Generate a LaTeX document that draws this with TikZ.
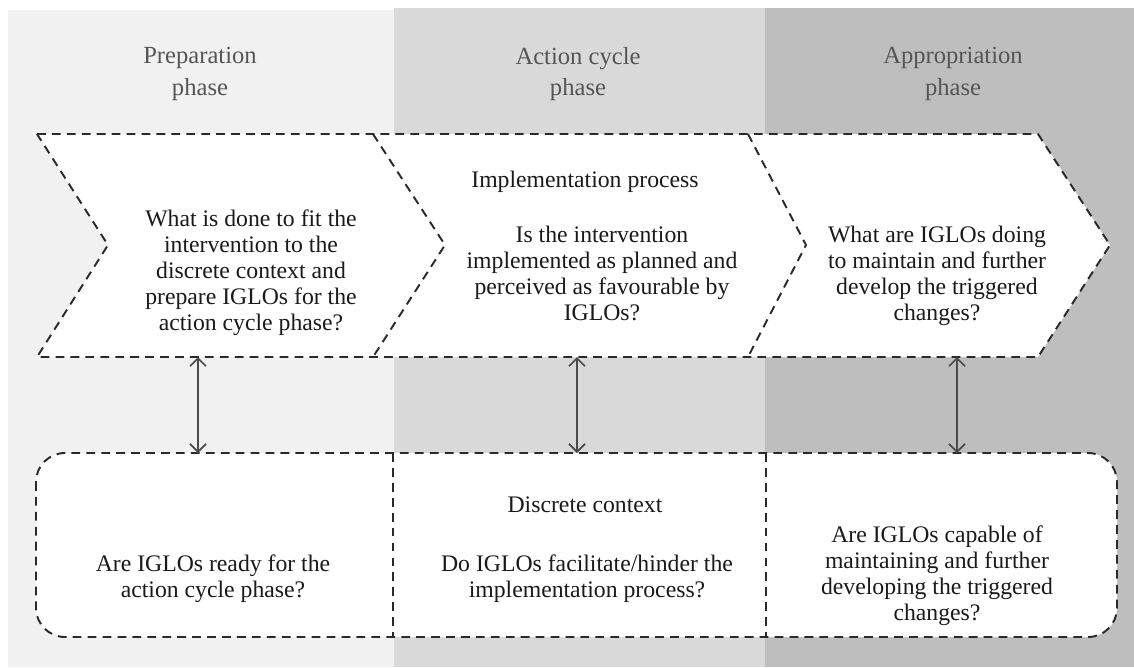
\documentclass[tikz,border=0pt]{standalone}
\usepackage{fontspec}
\setmainfont{Liberation Serif}
\usetikzlibrary{arrows.meta}
\definecolor{colprep}{HTML}{F1F1F1}
\definecolor{colact}{HTML}{D9D9D9}
\definecolor{colappr}{HTML}{BEBEBE}
\definecolor{coltext}{HTML}{1A1A1A}
\definecolor{colhead}{HTML}{555555}
\definecolor{colline}{HTML}{2A2A2A}
\begin{document}
\begin{tikzpicture}[x=0.02cm, y=-0.02cm,
		border/.style={draw=colline, line width=1.1pt, dash pattern=on 5pt off 3.5pt},
		head/.style={align=center, text=colhead, font=\fontsize{14}{18}\selectfont},
		quest/.style={align=center, text=coltext, font=\fontsize{13.5}{14.8}\selectfont},
		link/.style={draw=colline!85, line width=1pt, {Straight Barb[length=1.6mm,width=3.2mm]}-{Straight Barb[length=1.6mm,width=3.2mm]}}]
		\useasboundingbox ( 0, 0 ) rectangle ( 1134, 667 );

		% полосы фаз
		\fill [colprep] ( 8, 10 ) rectangle ( 394, 667 );
		\fill [colact] ( 394, 8 ) rectangle ( 765, 667 );
		\fill [colappr] ( 765, 8 ) rectangle ( 1134, 667 );

		% заголовки фаз
		\node [head] (prephead) at ( 200, 74 ) {Preparation\\phase};
		\node [head] (acthead) at ( 578, 74 ) {Action cycle\\phase};
		\node [head] (apprhead) at ( 953, 74 ) {Appropriation\\phase};

		% стрелки-шевроны
		\fill [white] ( 37, 134 ) -- ( 373, 134 ) -- ( 445, 245 ) -- ( 373, 357 ) -- ( 37, 357 ) -- ( 108, 245 ) -- cycle;
		\fill [white] ( 373, 134 ) -- ( 748, 134 ) -- ( 806, 245 ) -- ( 748, 357 ) -- ( 373, 357 ) -- ( 445, 245 ) -- cycle;
		\fill [white] ( 748, 134 ) -- ( 1038, 134 ) -- ( 1110, 245 ) -- ( 1038, 357 ) -- ( 748, 357 ) -- ( 806, 245 ) -- cycle;
		\draw [border] ( 37, 134 ) -- ( 1038, 134 ) -- ( 1110, 245 ) -- ( 1038, 357 ) -- ( 37, 357 ) -- ( 108, 245 ) -- cycle;
		\draw [border] ( 373, 134 ) -- ( 445, 245 ) -- ( 373, 357 );
		\draw [border] ( 748, 134 ) -- ( 806, 245 ) -- ( 748, 357 );

		% контекст
		\fill [white, rounded corners=0.58cm] ( 36, 453 ) rectangle ( 1117, 637 );
		\draw [border, rounded corners=0.58cm] ( 36, 453 ) rectangle ( 1117, 637 );
		\draw [border] ( 393, 453 ) -- ( 393, 637 );
		\draw [border] ( 766, 453 ) -- ( 766, 637 );

		% вопросы фазы подготовки
		\node [quest] (prepq) at ( 251, 273 ) {What is done to fit the\\intervention to the\\discrete context and\\prepare IGLOs for the\\action cycle phase?};
		\node [quest] (readyq) at ( 213, 579 ) {Are IGLOs ready for the\\action cycle phase?};

		% вопросы фазы действий
		\node [quest] (implhead) at ( 585, 182 ) {Implementation process};
		\node [quest] (implq) at ( 602, 273 ) {Is the intervention\\implemented as planned and\\perceived as favourable by\\IGLOs?};
		\node [quest] (ctxhead) at ( 585, 505 ) {Discrete context};
		\node [quest] (ctxq) at ( 587, 579 ) {Do IGLOs facilitate/hinder the\\implementation process?};

		% вопросы фазы присвоения
		\node [quest] (apprq) at ( 937, 276 ) {What are IGLOs doing\\to maintain and further\\develop the triggered\\changes?};
		\node [quest] (capq) at ( 937, 576 ) {Are IGLOs capable of\\maintaining and further\\developing the triggered\\changes?};

		% связи
		\coordinate (prepbot) at ( 198, 357 );
		\coordinate (preptop) at ( 198, 453 );
		\coordinate (actbot) at ( 577, 357 );
		\coordinate (acttop) at ( 577, 453 );
		\coordinate (apprbot) at ( 957, 357 );
		\coordinate (apprtop) at ( 957, 453 );
		\draw [link] (prepbot) -- (preptop);
		\draw [link] (actbot) -- (acttop);
		\draw [link] (apprbot) -- (apprtop);
	\end{tikzpicture}
\end{document}
